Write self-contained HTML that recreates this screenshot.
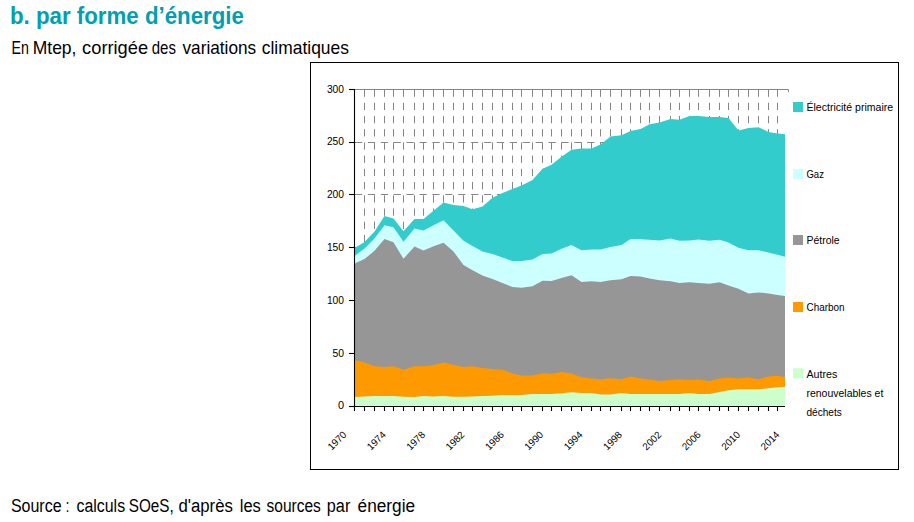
<!DOCTYPE html>
<html><head><meta charset="utf-8"><style>
html,body{margin:0;padding:0;background:#fff;width:914px;height:522px;overflow:hidden;}
body{position:relative;font-family:"Liberation Sans",sans-serif;}
.t{position:absolute;white-space:nowrap;}
.t{line-height:1;transform-origin:0 0;}
#title{left:9.6px;top:4px;font-size:24.5px;font-weight:bold;color:#00a0b2;transform:scaleX(0.909);}
#sub{left:11px;top:39px;font-size:18.5px;color:#000;transform:scaleX(0.933);}
#src{left:10px;top:497px;font-size:18px;color:#000;transform:scaleX(0.922);}
#frame{position:absolute;left:310px;top:62px;width:587px;height:406px;border:1px solid #000;}
svg{position:absolute;left:0;top:0;}
.ax{font-size:11px;fill:#000;}
.yr{font-size:10px;fill:#000;}
.lg{font-size:11px;fill:#000;}
</style></head><body>
<div class="t" id="title">b. par forme d’énergie</div>
<div id="frame"></div>
<svg width="914" height="522" viewBox="0 0 914 522">
<line x1="355" y1="353.5" x2="785" y2="353.5" stroke="#868686" stroke-width="1" stroke-dasharray="7.2,5.7"/>
<line x1="355" y1="300.5" x2="785" y2="300.5" stroke="#868686" stroke-width="1" stroke-dasharray="7.2,5.7"/>
<line x1="355" y1="247.5" x2="785" y2="247.5" stroke="#868686" stroke-width="1" stroke-dasharray="7.2,5.7"/>
<line x1="355" y1="194.5" x2="785" y2="194.5" stroke="#868686" stroke-width="1" stroke-dasharray="7.2,5.7"/>
<line x1="355" y1="142.5" x2="785" y2="142.5" stroke="#868686" stroke-width="1" stroke-dasharray="7.2,5.7"/>
<path d="M355,89.5H788.5V92" fill="none" stroke="#868686" stroke-width="1"/>
<line x1="364.5" y1="89.5" x2="364.5" y2="406" stroke="#868686" stroke-width="1" stroke-dasharray="7.3,5.92"/>
<line x1="374.5" y1="89.5" x2="374.5" y2="406" stroke="#868686" stroke-width="1" stroke-dasharray="7.3,5.92"/>
<line x1="384.5" y1="89.5" x2="384.5" y2="406" stroke="#868686" stroke-width="1" stroke-dasharray="7.3,5.92"/>
<line x1="393.5" y1="89.5" x2="393.5" y2="406" stroke="#868686" stroke-width="1" stroke-dasharray="7.3,5.92"/>
<line x1="403.5" y1="89.5" x2="403.5" y2="406" stroke="#868686" stroke-width="1" stroke-dasharray="7.3,5.92"/>
<line x1="414.5" y1="89.5" x2="414.5" y2="406" stroke="#868686" stroke-width="1" stroke-dasharray="7.3,5.92"/>
<line x1="423.5" y1="89.5" x2="423.5" y2="406" stroke="#868686" stroke-width="1" stroke-dasharray="7.3,5.92"/>
<line x1="433.5" y1="89.5" x2="433.5" y2="406" stroke="#868686" stroke-width="1" stroke-dasharray="7.3,5.92"/>
<line x1="443.5" y1="89.5" x2="443.5" y2="406" stroke="#868686" stroke-width="1" stroke-dasharray="7.3,5.92"/>
<line x1="453.5" y1="89.5" x2="453.5" y2="406" stroke="#868686" stroke-width="1" stroke-dasharray="7.3,5.92"/>
<line x1="463.5" y1="89.5" x2="463.5" y2="406" stroke="#868686" stroke-width="1" stroke-dasharray="7.3,5.92"/>
<line x1="472.5" y1="89.5" x2="472.5" y2="406" stroke="#868686" stroke-width="1" stroke-dasharray="7.3,5.92"/>
<line x1="482.5" y1="89.5" x2="482.5" y2="406" stroke="#868686" stroke-width="1" stroke-dasharray="7.3,5.92"/>
<line x1="492.5" y1="89.5" x2="492.5" y2="406" stroke="#868686" stroke-width="1" stroke-dasharray="7.3,5.92"/>
<line x1="502.5" y1="89.5" x2="502.5" y2="406" stroke="#868686" stroke-width="1" stroke-dasharray="7.3,5.92"/>
<line x1="512.5" y1="89.5" x2="512.5" y2="406" stroke="#868686" stroke-width="1" stroke-dasharray="7.3,5.92"/>
<line x1="521.5" y1="89.5" x2="521.5" y2="406" stroke="#868686" stroke-width="1" stroke-dasharray="7.3,5.92"/>
<line x1="532.5" y1="89.5" x2="532.5" y2="406" stroke="#868686" stroke-width="1" stroke-dasharray="7.3,5.92"/>
<line x1="542.5" y1="89.5" x2="542.5" y2="406" stroke="#868686" stroke-width="1" stroke-dasharray="7.3,5.92"/>
<line x1="551.5" y1="89.5" x2="551.5" y2="406" stroke="#868686" stroke-width="1" stroke-dasharray="7.3,5.92"/>
<line x1="561.5" y1="89.5" x2="561.5" y2="406" stroke="#868686" stroke-width="1" stroke-dasharray="7.3,5.92"/>
<line x1="571.5" y1="89.5" x2="571.5" y2="406" stroke="#868686" stroke-width="1" stroke-dasharray="7.3,5.92"/>
<line x1="581.5" y1="89.5" x2="581.5" y2="406" stroke="#868686" stroke-width="1" stroke-dasharray="7.3,5.92"/>
<line x1="591.5" y1="89.5" x2="591.5" y2="406" stroke="#868686" stroke-width="1" stroke-dasharray="7.3,5.92"/>
<line x1="600.5" y1="89.5" x2="600.5" y2="406" stroke="#868686" stroke-width="1" stroke-dasharray="7.3,5.92"/>
<line x1="610.5" y1="89.5" x2="610.5" y2="406" stroke="#868686" stroke-width="1" stroke-dasharray="7.3,5.92"/>
<line x1="621.5" y1="89.5" x2="621.5" y2="406" stroke="#868686" stroke-width="1" stroke-dasharray="7.3,5.92"/>
<line x1="630.5" y1="89.5" x2="630.5" y2="406" stroke="#868686" stroke-width="1" stroke-dasharray="7.3,5.92"/>
<line x1="640.5" y1="89.5" x2="640.5" y2="406" stroke="#868686" stroke-width="1" stroke-dasharray="7.3,5.92"/>
<line x1="649.5" y1="89.5" x2="649.5" y2="406" stroke="#868686" stroke-width="1" stroke-dasharray="7.3,5.92"/>
<line x1="659.5" y1="89.5" x2="659.5" y2="406" stroke="#868686" stroke-width="1" stroke-dasharray="7.3,5.92"/>
<line x1="670.5" y1="89.5" x2="670.5" y2="406" stroke="#868686" stroke-width="1" stroke-dasharray="7.3,5.92"/>
<line x1="679.5" y1="89.5" x2="679.5" y2="406" stroke="#868686" stroke-width="1" stroke-dasharray="7.3,5.92"/>
<line x1="689.5" y1="89.5" x2="689.5" y2="406" stroke="#868686" stroke-width="1" stroke-dasharray="7.3,5.92"/>
<line x1="698.5" y1="89.5" x2="698.5" y2="406" stroke="#868686" stroke-width="1" stroke-dasharray="7.3,5.92"/>
<line x1="709.5" y1="89.5" x2="709.5" y2="406" stroke="#868686" stroke-width="1" stroke-dasharray="7.3,5.92"/>
<line x1="719.5" y1="89.5" x2="719.5" y2="406" stroke="#868686" stroke-width="1" stroke-dasharray="7.3,5.92"/>
<line x1="728.5" y1="89.5" x2="728.5" y2="406" stroke="#868686" stroke-width="1" stroke-dasharray="7.3,5.92"/>
<line x1="738.5" y1="89.5" x2="738.5" y2="406" stroke="#868686" stroke-width="1" stroke-dasharray="7.3,5.92"/>
<line x1="748.5" y1="89.5" x2="748.5" y2="406" stroke="#868686" stroke-width="1" stroke-dasharray="7.3,5.92"/>
<line x1="758.5" y1="89.5" x2="758.5" y2="406" stroke="#868686" stroke-width="1" stroke-dasharray="7.3,5.92"/>
<line x1="768.5" y1="89.5" x2="768.5" y2="406" stroke="#868686" stroke-width="1" stroke-dasharray="7.3,5.92"/>
<line x1="777.5" y1="89.5" x2="777.5" y2="406" stroke="#868686" stroke-width="1" stroke-dasharray="7.3,5.92"/>
<polygon points="354.5,248.0 364.5,241.9 374.5,231.5 384.5,216.1 393.5,218.5 403.5,231.2 414.5,219.1 423.5,219.1 433.5,210.8 443.5,202.6 453.5,205.1 463.5,206.0 472.5,209.3 482.5,206.6 492.5,197.7 502.5,193.0 512.5,188.9 521.5,185.6 532.5,180.0 542.5,168.8 551.5,164.8 561.5,156.8 571.5,149.7 581.5,148.6 591.5,148.4 600.5,144.6 610.5,136.6 621.5,135.2 630.5,130.9 640.5,128.9 649.5,124.2 659.5,122.5 670.5,119.1 679.5,119.8 689.5,116.0 698.5,116.1 709.5,116.9 719.5,117.1 728.5,118.1 738.5,130.5 748.5,127.9 758.5,127.2 768.5,131.9 777.5,133.6 785.0,134.3 785.0,406.0 354.4,406.0" fill="#33CCCC"/>
<polygon points="354.5,256.0 364.5,248.5 374.5,238.5 384.5,225.2 393.5,227.2 403.5,241.7 414.5,228.5 423.5,230.5 433.5,225.2 443.5,220.2 453.5,230.5 463.5,240.7 472.5,246.1 482.5,251.5 492.5,254.1 502.5,257.5 512.5,261.1 521.5,261.1 532.5,259.5 542.5,254.1 551.5,253.5 561.5,248.8 571.5,245.1 581.5,250.2 591.5,249.5 600.5,249.5 610.5,246.9 621.5,245.1 630.5,239.1 640.5,239.3 649.5,239.8 659.5,240.4 670.5,238.4 679.5,240.8 689.5,240.4 698.5,239.5 709.5,240.8 719.5,239.8 728.5,242.4 738.5,247.8 748.5,250.2 758.5,250.2 768.5,252.5 777.5,254.8 785.0,256.8 785.0,406.0 354.4,406.0" fill="#CCFFFF"/>
<polygon points="354.5,263.5 364.5,259.1 374.5,250.8 384.5,239.0 393.5,242.2 403.5,258.8 414.5,246.4 423.5,250.6 433.5,246.2 443.5,242.7 453.5,251.5 463.5,265.1 472.5,270.2 482.5,275.6 492.5,278.9 502.5,283.0 512.5,287.0 521.5,287.7 532.5,286.3 542.5,280.7 551.5,281.0 561.5,277.9 571.5,275.3 581.5,282.0 591.5,281.3 600.5,282.0 610.5,280.2 621.5,279.3 630.5,276.0 640.5,276.6 649.5,278.6 659.5,280.2 670.5,281.3 679.5,282.9 689.5,282.2 698.5,283.0 709.5,283.8 719.5,282.3 728.5,285.4 738.5,288.8 748.5,293.5 758.5,292.5 768.5,293.5 777.5,295.1 785.0,295.9 785.0,406.0 354.4,406.0" fill="#969696"/>
<polygon points="354.5,360.0 364.5,362.4 374.5,366.2 384.5,367.1 393.5,366.2 403.5,369.8 414.5,366.2 423.5,366.2 433.5,365.1 443.5,362.4 453.5,364.8 463.5,367.1 472.5,366.2 482.5,368.1 492.5,369.1 502.5,369.8 512.5,373.4 521.5,375.6 532.5,375.6 542.5,373.2 551.5,373.8 561.5,372.1 571.5,373.6 581.5,377.2 591.5,378.5 600.5,379.2 610.5,378.3 621.5,379.2 630.5,376.5 640.5,378.5 649.5,379.6 659.5,380.9 670.5,380.1 679.5,379.2 689.5,380.1 698.5,379.6 709.5,380.9 719.5,378.5 728.5,377.5 738.5,378.5 748.5,377.5 758.5,379.2 768.5,376.5 777.5,375.8 785.0,376.9 785.0,406.0 354.4,406.0" fill="#FF9900"/>
<polygon points="354.5,396.9 364.5,396.6 374.5,396.0 384.5,396.0 393.5,396.0 403.5,396.8 414.5,396.9 423.5,396.0 433.5,396.6 443.5,396.0 453.5,396.8 463.5,396.8 472.5,396.6 482.5,396.0 492.5,395.7 502.5,394.9 512.5,394.9 521.5,394.9 532.5,394.1 542.5,394.1 551.5,394.1 561.5,393.3 571.5,392.2 581.5,393.0 591.5,393.0 600.5,394.6 610.5,394.6 621.5,393.0 630.5,393.9 640.5,393.9 649.5,393.9 659.5,393.9 670.5,393.9 679.5,393.9 689.5,393.0 698.5,393.9 709.5,393.9 719.5,391.9 728.5,390.3 738.5,389.3 748.5,389.3 758.5,389.3 768.5,388.2 777.5,387.2 785.0,386.8 785.0,406.0 354.4,406.0" fill="#CCFFCC"/>
<line x1="354.5" y1="89" x2="354.5" y2="406.5" stroke="#000" stroke-width="1.1"/>
<line x1="354" y1="406.5" x2="785" y2="406.5" stroke="#000" stroke-width="1.1"/>
<line x1="349" y1="406.5" x2="355" y2="406.5" stroke="#000" stroke-width="1.1"/>
<text x="344" y="409.4" text-anchor="end" class="ax" textLength="6.1" lengthAdjust="spacingAndGlyphs">0</text>
<line x1="349" y1="353.5" x2="355" y2="353.5" stroke="#000" stroke-width="1.1"/>
<text x="344" y="356.6" text-anchor="end" class="ax" textLength="11.6" lengthAdjust="spacingAndGlyphs">50</text>
<line x1="349" y1="300.5" x2="355" y2="300.5" stroke="#000" stroke-width="1.1"/>
<text x="344" y="303.8" text-anchor="end" class="ax" textLength="17.1" lengthAdjust="spacingAndGlyphs">100</text>
<line x1="349" y1="247.5" x2="355" y2="247.5" stroke="#000" stroke-width="1.1"/>
<text x="344" y="251.0" text-anchor="end" class="ax" textLength="17.1" lengthAdjust="spacingAndGlyphs">150</text>
<line x1="349" y1="194.5" x2="355" y2="194.5" stroke="#000" stroke-width="1.1"/>
<text x="344" y="198.1" text-anchor="end" class="ax" textLength="17.1" lengthAdjust="spacingAndGlyphs">200</text>
<line x1="349" y1="142.5" x2="355" y2="142.5" stroke="#000" stroke-width="1.1"/>
<text x="344" y="145.3" text-anchor="end" class="ax" textLength="17.1" lengthAdjust="spacingAndGlyphs">250</text>
<line x1="349" y1="89.5" x2="355" y2="89.5" stroke="#000" stroke-width="1.1"/>
<text x="344" y="92.5" text-anchor="end" class="ax" textLength="17.1" lengthAdjust="spacingAndGlyphs">300</text>
<line x1="354.5" y1="406" x2="354.5" y2="411" stroke="#000" stroke-width="1.1"/>
<line x1="364.5" y1="406" x2="364.5" y2="411" stroke="#000" stroke-width="1.1"/>
<line x1="374.5" y1="406" x2="374.5" y2="411" stroke="#000" stroke-width="1.1"/>
<line x1="384.5" y1="406" x2="384.5" y2="411" stroke="#000" stroke-width="1.1"/>
<line x1="393.5" y1="406" x2="393.5" y2="411" stroke="#000" stroke-width="1.1"/>
<line x1="403.5" y1="406" x2="403.5" y2="411" stroke="#000" stroke-width="1.1"/>
<line x1="414.5" y1="406" x2="414.5" y2="411" stroke="#000" stroke-width="1.1"/>
<line x1="423.5" y1="406" x2="423.5" y2="411" stroke="#000" stroke-width="1.1"/>
<line x1="433.5" y1="406" x2="433.5" y2="411" stroke="#000" stroke-width="1.1"/>
<line x1="443.5" y1="406" x2="443.5" y2="411" stroke="#000" stroke-width="1.1"/>
<line x1="453.5" y1="406" x2="453.5" y2="411" stroke="#000" stroke-width="1.1"/>
<line x1="463.5" y1="406" x2="463.5" y2="411" stroke="#000" stroke-width="1.1"/>
<line x1="472.5" y1="406" x2="472.5" y2="411" stroke="#000" stroke-width="1.1"/>
<line x1="482.5" y1="406" x2="482.5" y2="411" stroke="#000" stroke-width="1.1"/>
<line x1="492.5" y1="406" x2="492.5" y2="411" stroke="#000" stroke-width="1.1"/>
<line x1="502.5" y1="406" x2="502.5" y2="411" stroke="#000" stroke-width="1.1"/>
<line x1="512.5" y1="406" x2="512.5" y2="411" stroke="#000" stroke-width="1.1"/>
<line x1="521.5" y1="406" x2="521.5" y2="411" stroke="#000" stroke-width="1.1"/>
<line x1="532.5" y1="406" x2="532.5" y2="411" stroke="#000" stroke-width="1.1"/>
<line x1="542.5" y1="406" x2="542.5" y2="411" stroke="#000" stroke-width="1.1"/>
<line x1="551.5" y1="406" x2="551.5" y2="411" stroke="#000" stroke-width="1.1"/>
<line x1="561.5" y1="406" x2="561.5" y2="411" stroke="#000" stroke-width="1.1"/>
<line x1="571.5" y1="406" x2="571.5" y2="411" stroke="#000" stroke-width="1.1"/>
<line x1="581.5" y1="406" x2="581.5" y2="411" stroke="#000" stroke-width="1.1"/>
<line x1="591.5" y1="406" x2="591.5" y2="411" stroke="#000" stroke-width="1.1"/>
<line x1="600.5" y1="406" x2="600.5" y2="411" stroke="#000" stroke-width="1.1"/>
<line x1="610.5" y1="406" x2="610.5" y2="411" stroke="#000" stroke-width="1.1"/>
<line x1="621.5" y1="406" x2="621.5" y2="411" stroke="#000" stroke-width="1.1"/>
<line x1="630.5" y1="406" x2="630.5" y2="411" stroke="#000" stroke-width="1.1"/>
<line x1="640.5" y1="406" x2="640.5" y2="411" stroke="#000" stroke-width="1.1"/>
<line x1="649.5" y1="406" x2="649.5" y2="411" stroke="#000" stroke-width="1.1"/>
<line x1="659.5" y1="406" x2="659.5" y2="411" stroke="#000" stroke-width="1.1"/>
<line x1="670.5" y1="406" x2="670.5" y2="411" stroke="#000" stroke-width="1.1"/>
<line x1="679.5" y1="406" x2="679.5" y2="411" stroke="#000" stroke-width="1.1"/>
<line x1="689.5" y1="406" x2="689.5" y2="411" stroke="#000" stroke-width="1.1"/>
<line x1="698.5" y1="406" x2="698.5" y2="411" stroke="#000" stroke-width="1.1"/>
<line x1="709.5" y1="406" x2="709.5" y2="411" stroke="#000" stroke-width="1.1"/>
<line x1="719.5" y1="406" x2="719.5" y2="411" stroke="#000" stroke-width="1.1"/>
<line x1="728.5" y1="406" x2="728.5" y2="411" stroke="#000" stroke-width="1.1"/>
<line x1="738.5" y1="406" x2="738.5" y2="411" stroke="#000" stroke-width="1.1"/>
<line x1="748.5" y1="406" x2="748.5" y2="411" stroke="#000" stroke-width="1.1"/>
<line x1="758.5" y1="406" x2="758.5" y2="411" stroke="#000" stroke-width="1.1"/>
<line x1="768.5" y1="406" x2="768.5" y2="411" stroke="#000" stroke-width="1.1"/>
<line x1="777.5" y1="406" x2="777.5" y2="411" stroke="#000" stroke-width="1.1"/>
<text transform="translate(347.1,435.3) rotate(-45)" text-anchor="end" class="yr" textLength="21.8" lengthAdjust="spacingAndGlyphs">1970</text>
<text transform="translate(386.5,435.3) rotate(-45)" text-anchor="end" class="yr" textLength="21.8" lengthAdjust="spacingAndGlyphs">1974</text>
<text transform="translate(425.8,435.3) rotate(-45)" text-anchor="end" class="yr" textLength="21.8" lengthAdjust="spacingAndGlyphs">1978</text>
<text transform="translate(465.2,435.3) rotate(-45)" text-anchor="end" class="yr" textLength="21.8" lengthAdjust="spacingAndGlyphs">1982</text>
<text transform="translate(504.6,435.3) rotate(-45)" text-anchor="end" class="yr" textLength="21.8" lengthAdjust="spacingAndGlyphs">1986</text>
<text transform="translate(543.9,435.3) rotate(-45)" text-anchor="end" class="yr" textLength="21.8" lengthAdjust="spacingAndGlyphs">1990</text>
<text transform="translate(583.3,435.3) rotate(-45)" text-anchor="end" class="yr" textLength="21.8" lengthAdjust="spacingAndGlyphs">1994</text>
<text transform="translate(622.7,435.3) rotate(-45)" text-anchor="end" class="yr" textLength="21.8" lengthAdjust="spacingAndGlyphs">1998</text>
<text transform="translate(662.0,435.3) rotate(-45)" text-anchor="end" class="yr" textLength="21.8" lengthAdjust="spacingAndGlyphs">2002</text>
<text transform="translate(701.4,435.3) rotate(-45)" text-anchor="end" class="yr" textLength="21.8" lengthAdjust="spacingAndGlyphs">2006</text>
<text transform="translate(740.8,435.3) rotate(-45)" text-anchor="end" class="yr" textLength="21.8" lengthAdjust="spacingAndGlyphs">2010</text>
<text transform="translate(780.1,435.3) rotate(-45)" text-anchor="end" class="yr" textLength="21.8" lengthAdjust="spacingAndGlyphs">2014</text>
<rect x="793" y="102" width="10" height="10" fill="#33CCCC"/>
<text x="806.5" y="110.9" class="lg" textLength="86.6" lengthAdjust="spacingAndGlyphs">Électricité primaire</text>
<rect x="793" y="169" width="10" height="10" fill="#CCFFFF"/>
<text x="806.5" y="178.1" class="lg" textLength="17.400000000000002" lengthAdjust="spacingAndGlyphs">Gaz</text>
<rect x="793" y="235" width="10" height="10" fill="#969696"/>
<text x="806.5" y="243.6" class="lg" textLength="33.199999999999996" lengthAdjust="spacingAndGlyphs">Pétrole</text>
<rect x="793" y="302" width="10" height="10" fill="#FF9900"/>
<text x="806.5" y="311.2" class="lg" textLength="38.0" lengthAdjust="spacingAndGlyphs">Charbon</text>
<rect x="793" y="368.3" width="10" height="10" fill="#CCFFCC"/>
<text x="806.5" y="378.1" class="lg" textLength="30.7" lengthAdjust="spacingAndGlyphs">Autres</text>
<text x="806.5" y="397.1" class="lg" textLength="76.8" lengthAdjust="spacingAndGlyphs">renouvelables et</text>
<text x="806.5" y="416.3" class="lg" textLength="35.3" lengthAdjust="spacingAndGlyphs">déchets</text>
<text x="11.40" y="53.8" style="font-size:18.5px" textLength="17.43" lengthAdjust="spacingAndGlyphs">En</text>
<text x="32.70" y="53.8" style="font-size:18.5px" textLength="43.79" lengthAdjust="spacingAndGlyphs">Mtep,</text>
<text x="82.10" y="53.8" style="font-size:18.5px" textLength="66.02" lengthAdjust="spacingAndGlyphs">corrigée</text>
<text x="151.80" y="53.8" style="font-size:18.5px" textLength="24.12" lengthAdjust="spacingAndGlyphs">des</text>
<text x="182.50" y="53.8" style="font-size:18.5px" textLength="73.62" lengthAdjust="spacingAndGlyphs">variations</text>
<text x="261.80" y="53.8" style="font-size:18.5px" textLength="87.10" lengthAdjust="spacingAndGlyphs">climatiques</text>
<text x="10.90" y="511.5" style="font-size:18px" textLength="50.71" lengthAdjust="spacingAndGlyphs">Source</text>
<text x="65.80" y="511.5" style="font-size:18px" textLength="3.50" lengthAdjust="spacingAndGlyphs">:</text>
<text x="76.50" y="511.5" style="font-size:18px" textLength="48.60" lengthAdjust="spacingAndGlyphs">calculs</text>
<text x="128.70" y="511.5" style="font-size:18px" textLength="45.02" lengthAdjust="spacingAndGlyphs">SOeS,</text>
<text x="178.40" y="511.5" style="font-size:18px" textLength="54.51" lengthAdjust="spacingAndGlyphs">d'après</text>
<text x="239.80" y="511.5" style="font-size:18px" textLength="21.05" lengthAdjust="spacingAndGlyphs">les</text>
<text x="266.50" y="511.5" style="font-size:18px" textLength="54.32" lengthAdjust="spacingAndGlyphs">sources</text>
<text x="326.80" y="511.5" style="font-size:18px" textLength="23.51" lengthAdjust="spacingAndGlyphs">par</text>
<text x="357.60" y="511.5" style="font-size:18px" textLength="57.51" lengthAdjust="spacingAndGlyphs">énergie</text>
</svg>
</body></html>
